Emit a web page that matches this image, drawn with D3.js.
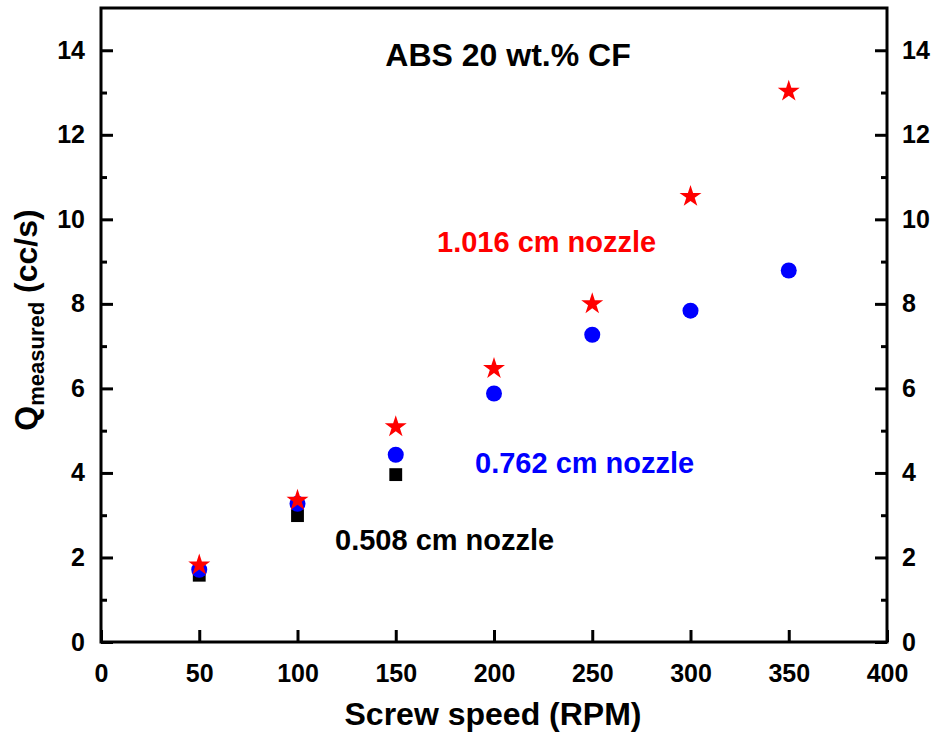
<!DOCTYPE html>
<html>
<head>
<meta charset="utf-8">
<script src="https://cdn.jsdelivr.net/npm/d3@7"></script>
<style>
    body { margin: 0; background: #fff; }
    text { font-family: "Liberation Sans", Arial, sans-serif; font-weight: bold; }
</style>
</head>
<body>
<div id="chart"></div>
<script>
// screw speed (RPM)
var speed = [50, 100, 150, 200, 250, 300, 350];
var speedSmall = [50, 100, 150];
// measured flow rate (cc/s) per nozzle
var q1016 = [1.82, 3.35, 5.09, 6.47, 8.0, 10.54, 13.03];
var q0762 = [1.71, 3.27, 4.43, 5.88, 7.27, 7.84, 8.79];
var q0508 = [1.58, 2.99, 3.96];
var xTicks = [0, 50, 100, 150, 200, 250, 300, 350, 400];
var yTicks = [0, 2, 4, 6, 8, 10, 12, 14];
var yMinor = [1, 3, 5, 7, 9, 11, 13];

var width = 936;
var height = 742;
var padding = {top: 8, right: 49, bottom: 100, left: 101};
var w = width - padding.left - padding.right;
var h = height - padding.top - padding.bottom;

var xScale = d3.scaleLinear().domain([0, 400]).range([0, w]);
var yScale = d3.scaleLinear().domain([0, 15]).range([h, 0]);

var svg = d3.select('#chart')
    .append('svg')
    .attr('width', width)
    .attr('height', height);

var g = svg.append('g')
    .attr('transform', 'translate(' + padding.left + ',' + padding.top + ')');

// inward ticks
var xAxis = d3.axisBottom(xScale).tickValues(xTicks).tickSize(-12).tickPadding(22).tickFormat(d3.format('d'));
var yLeft = d3.axisLeft(yScale).tickValues(yTicks).tickSize(-12).tickPadding(16).tickFormat(d3.format('d'));
var yRight = d3.axisRight(yScale).tickValues(yTicks).tickSize(-12).tickPadding(15).tickFormat(d3.format('d'));
var yLeftMinor = d3.axisLeft(yScale).tickValues(yMinor).tickSize(-6).tickFormat('');
var yRightMinor = d3.axisRight(yScale).tickValues(yMinor).tickSize(-6).tickFormat('');

function styleAxis(sel) {
    sel.select('.domain').remove();
    sel.selectAll('line').attr('stroke', '#000').attr('stroke-width', 3);
    sel.selectAll('text').attr('font-size', 25).attr('fill', '#000');
}

g.append('g').attr('transform', 'translate(0,' + h + ')').call(xAxis).call(styleAxis)
    .selectAll('text').attr('dy', '0.71em');
g.append('g').call(yLeft).call(styleAxis);
g.append('g').attr('transform', 'translate(' + w + ',0)').call(yRight).call(styleAxis);
g.append('g').call(yLeftMinor).call(styleAxis);
g.append('g').attr('transform', 'translate(' + w + ',0)').call(yRightMinor).call(styleAxis);

// frame
g.append('rect')
    .attr('width', w)
    .attr('height', h)
    .attr('fill', 'none')
    .attr('stroke', '#000')
    .attr('stroke-width', 3);

// markers
g.append('g')
    .selectAll('path')
    .data(speedSmall.map(function (d, i) { return [d, q0508[i]]; }))
    .enter()
    .append('path')
    .attr('d', d3.symbol().type(d3.symbolSquare).size(165))
    .attr('transform', function (d) { return 'translate(' + xScale(d[0]) + ',' + yScale(d[1]) + ')'; })
    .attr('fill', '#000');

g.append('g')
    .selectAll('circle')
    .data(speed.map(function (d, i) { return [d, q0762[i]]; }))
    .enter()
    .append('circle')
    .attr('r', 8)
    .attr('cx', function (d) { return xScale(d[0]); })
    .attr('cy', function (d) { return yScale(d[1]); })
    .attr('fill', '#0000ff');

g.append('g')
    .selectAll('path')
    .data(speed.map(function (d, i) { return [d, q1016[i]]; }))
    .enter()
    .append('path')
    .attr('d', d3.symbol().type(d3.symbolStar).size(150))
    .attr('transform', function (d) { return 'translate(' + xScale(d[0]) + ',' + yScale(d[1]) + ')'; })
    .attr('fill', '#ff0000');

// annotations
svg.append('text').attr('x', 508).attr('y', 66).attr('text-anchor', 'middle')
    .attr('font-size', 32).attr('fill', '#000').text('ABS 20 wt.% CF');
svg.append('text').attr('x', 437).attr('y', 252)
    .attr('font-size', 29).attr('fill', '#ff0000').text('1.016 cm nozzle');
svg.append('text').attr('x', 475).attr('y', 473)
    .attr('font-size', 29).attr('fill', '#0000ff').text('0.762 cm nozzle');
svg.append('text').attr('x', 335).attr('y', 550)
    .attr('font-size', 29).attr('fill', '#000').text('0.508 cm nozzle');

// axis titles
svg.append('text').attr('x', 493).attr('y', 725).attr('text-anchor', 'middle')
    .attr('font-size', 32).attr('fill', '#000').text('Screw speed (RPM)');

var yt = svg.append('text')
    .attr('transform', 'translate(37,320) rotate(-90)')
    .attr('text-anchor', 'middle')
    .attr('font-size', 32)
    .attr('fill', '#000');
yt.append('tspan').text('Q');
yt.append('tspan').attr('font-size', 22).attr('dy', 7).text('measured');
yt.append('tspan').attr('dy', -7).text(' (cc/s)');
</script>
</body>
</html>
